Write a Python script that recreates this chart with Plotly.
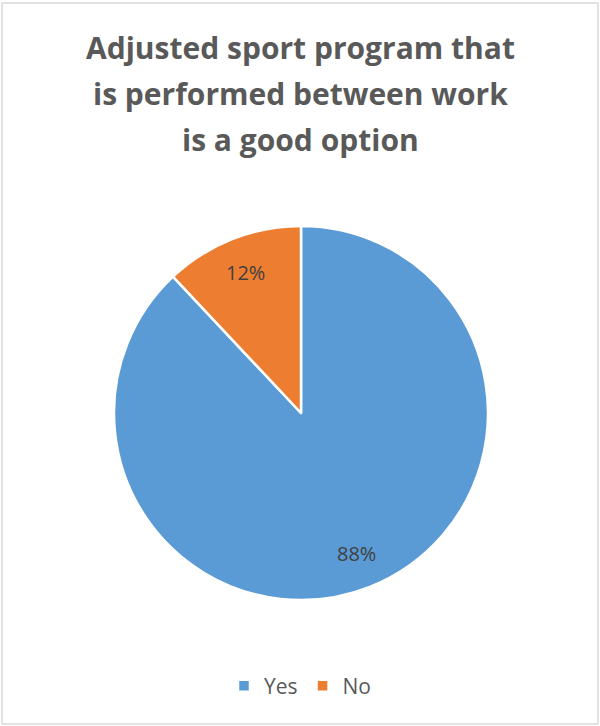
import math
import plotly.graph_objects as go

labels = ["Yes", "No"]
values = [88, 12]
colors = ["#5B9BD5", "#ED7D31"]
title_lines = ["Adjusted sport program that", "is performed between work", "is a good option"]

W, H = 600, 726

dom_x = [114 / W, 488 / W]
dom_y = [1 - 600 / H, 1 - 226 / H]

fig = go.Figure(go.Pie(
    labels=labels,
    values=values,
    marker=dict(colors=colors, line=dict(color="white", width=2.5)),
    sort=False,
    direction="clockwise",
    rotation=0,
    textinfo="none",
    domain=dict(x=dom_x, y=dom_y),
    hoverinfo="label+percent",
))

# data labels placed along each slice's mid-angle (computed from the values)
cx_px = (dom_x[0] + dom_x[1]) / 2 * W
cy_px = (1 - (dom_y[0] + dom_y[1]) / 2) * H
R_px = min((dom_x[1] - dom_x[0]) * W, (dom_y[1] - dom_y[0]) * H) / 2
total = sum(values)
annotations = []
cum = 0
for v in values:
    mid = (cum + v / 2) / total * 2 * math.pi
    cum += v
    r = 0.81 * R_px
    px = cx_px + r * math.sin(mid)
    py = cy_px - r * math.cos(mid)
    annotations.append(dict(
        x=px / W, y=1 - py / H, xref="paper", yref="paper",
        text=f"{round(v / total * 100)}%", showarrow=False,
        xanchor="center", yanchor="middle",
        font=dict(family="Open Sans", size=20, color="#404040"),
    ))

title_y = [47, 93, 139]
for line, ty in zip(title_lines, title_y):
    annotations.append(dict(
        x=0.5, y=1 - ty / H, xref="paper", yref="paper",
        text="<b>" + line + "</b>", showarrow=False,
        xanchor="center", yanchor="middle",
        font=dict(family="Open Sans", size=30, color="#595959"),
    ))

fig.update_layout(
    width=W, height=H,
    margin=dict(l=0, r=0, t=0, b=0),
    paper_bgcolor="white",
    plot_bgcolor="white",
    font=dict(family="Open Sans", color="#595959"),
    annotations=annotations,
    showlegend=True,
    legend=dict(
        orientation="h",
        x=0.5, xanchor="center",
        y=1 - 686 / H, yanchor="middle",
        font=dict(family="Open Sans", size=21, color="#595959"),
        itemwidth=30,
    ),
    shapes=[dict(
        type="rect", xref="paper", yref="paper",
        x0=2 / W, x1=598 / W, y0=1 - 724 / H, y1=1 - 3 / H,
        line=dict(color="#D9D9D9", width=1.5),
        fillcolor="rgba(0,0,0,0)",
        layer="below",
    )],
)

fig.write_html("out.html")
